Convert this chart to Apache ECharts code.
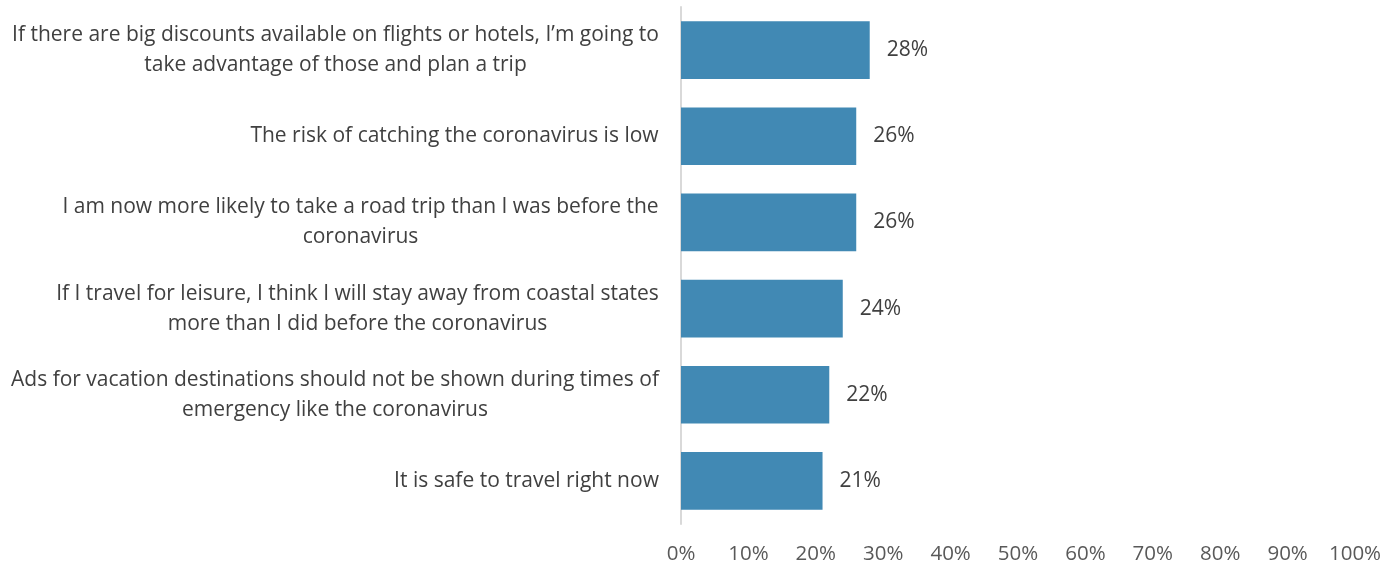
<!DOCTYPE html>
<html>
<head>
<meta charset="utf-8">
<script src="https://cdn.jsdelivr.net/npm/echarts@6/dist/echarts.min.js"></script>
<style>
  html, body { margin: 0; padding: 0; background: #fff; }
  #chart { width: 1385px; height: 566px; }
</style>
</head>
<body>
<div id="chart"></div>
<script>
// Statements about travel during the coronavirus, top to bottom
const categories = [
  'If there are big discounts available on flights or hotels, I\u2019m going to\ntake advantage of those and plan a trip',
  'The risk of catching the coronavirus is low',
  'I am now more likely to take a road trip than I was before the\ncoronavirus',
  'If I travel for leisure, I think I will stay away from coastal states\nmore than I did before the coronavirus',
  'Ads for vacation destinations should not be shown during times of\nemergency like the coronavirus',
  'It is safe to travel right now'
];
// Share of respondents agreeing (%)
const values = [28, 26, 26, 24, 22, 21];
// Value-axis tick labels
const tickLabels = ['0%', '10%', '20%', '30%', '40%', '50%', '60%', '70%', '80%', '90%', '100%'];

const FONT = '"Open Sans", sans-serif';
const LABEL_SIZE = 21;

// Each wrapped label keeps its lines centred on each other while the block
// stays right-aligned against the axis: give every line a box as wide as the
// longest line of its label.
const ctx = document.createElement('canvas').getContext('2d');
ctx.font = LABEL_SIZE + 'px ' + FONT;
const rich = {};
categories.forEach(function (c, i) {
  const w = Math.max.apply(null, c.split('\n').map(function (l) { return ctx.measureText(l).width; }));
  rich['l' + i] = { width: Math.ceil(w), align: 'center', fontSize: LABEL_SIZE, fontFamily: FONT, color: '#404040', lineHeight: 30 };
});

const chart = echarts.init(document.getElementById('chart'), null, { renderer: 'canvas' });
chart.setOption({
  animation: false,
  grid: { left: 681, right: 30, top: 7, bottom: 42 },
  xAxis: {
    type: 'value',
    min: 0, max: 100, interval: 10,
    axisLine: { show: false },
    axisTick: { show: false },
    splitLine: { show: false },
    axisLabel: {
      margin: 20,
      color: '#595959',
      fontSize: 20.5,
      fontFamily: FONT,
      formatter: function (v) { return tickLabels[Math.round(v / 10)]; }
    }
  },
  yAxis: {
    type: 'category',
    inverse: true,
    data: categories,
    axisLine: { show: true, lineStyle: { color: '#d9d9d9', width: 2 } },
    axisTick: { show: false },
    axisLabel: {
      margin: 22,
      align: 'right',
      formatter: function (v, i) {
        return v.split('\n').map(function (l) { return '{l' + i + '|' + l + '}'; }).join('\n');
      },
      rich: rich
    }
  },
  series: [{
    type: 'bar',
    data: values,
    barCategoryGap: '33%',
    itemStyle: { color: '#4189b4' },
    label: {
      show: true,
      position: 'right',
      distance: 17,
      color: '#404040',
      fontSize: 21,
      fontFamily: FONT,
      formatter: function (p) { return p.value + '%'; }
    }
  }]
});
</script>
</body>
</html>
